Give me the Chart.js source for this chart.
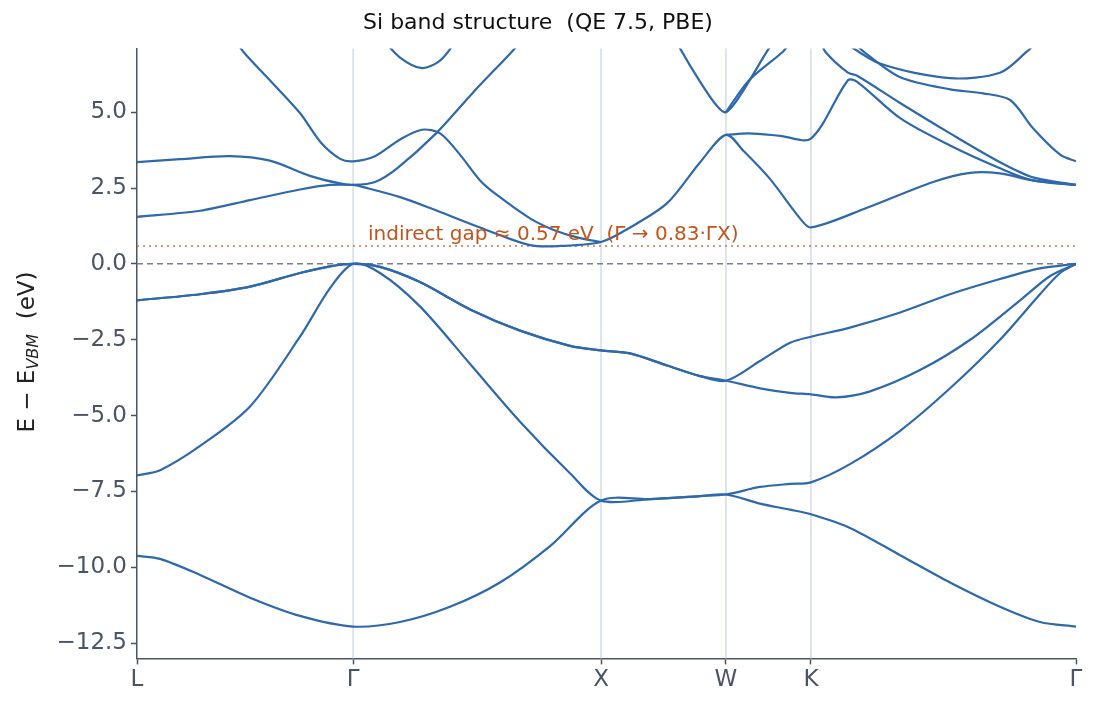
<!DOCTYPE html>
<html><head><meta charset="utf-8">
<script src="https://cdn.jsdelivr.net/npm/chart.js@4/dist/chart.umd.min.js"></script>
<style>html,body{margin:0;padding:0;background:#fff}#wrap{width:1099px;height:715px}</style>
</head><body><div id="wrap"><canvas id="c"></canvas></div>
<script>
// High-symmetry path positions and labels
const kTicks = [0, 0.870, 1.868, 2.371, 2.713, 3.780];
const kLabels = ['L', 'Γ', 'X', 'W', 'K', 'Γ'];
const gapE = 0.59;
// Bands: [k, E] pairs (eV relative to VBM)
const band1 = [[0,-9.62],[0.093,-9.72],[0.254,-10.25],[0.455,-11.0],[0.656,-11.6],[0.870,-11.95],[1.059,-11.8],[1.260,-11.3],[1.461,-10.5],[1.663,-9.3],[1.868,-7.8],[2.065,-7.75],[2.267,-7.65],[2.371,-7.6],[2.508,-7.9],[2.629,-8.1],[2.713,-8.25],[2.870,-8.7],[3.072,-9.6],[3.273,-10.5],[3.474,-11.3],[3.635,-11.8],[3.780,-11.95]];
const band2 = [[0,-6.97],[0.093,-6.8],[0.254,-6.0],[0.455,-4.7],[0.656,-2.4],[0.777,-0.8],[0.870,0],[0.978,-0.3],[1.139,-1.4],[1.341,-3.3],[1.542,-5.2],[1.743,-6.9],[1.868,-7.8],[2.065,-7.75],[2.267,-7.65],[2.371,-7.6],[2.508,-7.35],[2.629,-7.25],[2.713,-7.2],[2.870,-6.6],[3.072,-5.5],[3.273,-4.1],[3.474,-2.5],[3.635,-1.0],[3.716,-0.3],[3.780,0]];
const band3 = [[0,-1.2],[0.254,-1.0],[0.455,-0.75],[0.656,-0.3],[0.777,-0.08],[0.870,0],[0.978,-0.1],[1.139,-0.6],[1.341,-1.5],[1.542,-2.2],[1.743,-2.7],[1.868,-2.85],[1.985,-2.95],[2.134,-3.35],[2.267,-3.7],[2.371,-3.85],[2.508,-4.1],[2.629,-4.25],[2.713,-4.3],[2.814,-4.4],[2.951,-4.2],[3.152,-3.5],[3.354,-2.5],[3.555,-1.2],[3.676,-0.4],[3.780,0]];
const band4 = [[0,-1.2],[0.254,-1.0],[0.455,-0.75],[0.656,-0.3],[0.777,-0.08],[0.870,0],[0.978,-0.1],[1.139,-0.6],[1.341,-1.5],[1.542,-2.2],[1.743,-2.7],[1.868,-2.85],[1.985,-2.95],[2.134,-3.35],[2.267,-3.7],[2.371,-3.85],[2.508,-3.2],[2.629,-2.6],[2.713,-2.4],[2.870,-2.1],[3.072,-1.6],[3.273,-1.0],[3.474,-0.5],[3.635,-0.15],[3.780,0]];
const band5 = [[0,1.55],[0.254,1.75],[0.455,2.1],[0.656,2.45],[0.777,2.6],[0.870,2.6],[0.910,2.53],[1.059,2.2],[1.180,1.84],[1.381,1.2],[1.582,0.62],[1.703,0.59],[1.868,0.72],[1.985,1.2],[2.134,2.0],[2.267,3.35],[2.371,4.25],[2.444,3.7],[2.548,2.8],[2.669,1.5],[2.713,1.2],[2.939,1.85],[3.205,2.7],[3.354,3.0],[3.474,2.98],[3.607,2.75],[3.780,2.6]];
const band6 = [[0,3.35],[0.173,3.45],[0.374,3.55],[0.535,3.4],[0.696,2.9],[0.817,2.65],[0.870,2.6],[0.958,2.7],[1.047,3.15],[1.204,4.3],[1.353,5.65],[1.510,7.0],[1.562,7.5]];
const band7 = [[0.395,7.4],[0.427,7.0],[0.535,6.05],[0.656,4.97],[0.740,4.0],[0.820,3.45],[0.870,3.38],[0.958,3.55],[1.059,4.1],[1.147,4.42],[1.220,4.3],[1.300,3.6],[1.381,2.75],[1.449,2.27],[1.582,1.5],[1.683,1.1],[1.784,0.85],[1.868,0.72]];
const band8 = [[0.978,7.5],[1.059,6.8],[1.147,6.45],[1.220,6.7],[1.280,7.3],[1.300,7.6]];
const bandW1 = [[2.170,7.4],[2.186,7.1],[2.267,6.0],[2.335,5.2],[2.371,5.0],[2.424,5.5],[2.536,7.0],[2.569,7.4]];
const bandW2 = [[2.371,5.0],[2.464,6.05],[2.601,7.0],[2.629,7.3]];
const bandWK = [[2.371,4.25],[2.464,4.3],[2.589,4.22],[2.713,4.13],[2.862,6.05],[2.899,6.0],[3.072,4.8],[3.273,3.9],[3.474,3.15],[3.607,2.75],[3.780,2.6]];
const bandK1 = [[2.750,7.4],[2.770,7.0],[2.862,6.3],[2.899,6.2],[3.072,5.3],[3.273,4.3],[3.474,3.35],[3.607,2.85],[3.780,2.6]];
const bandK2 = [[2.870,7.4],[2.939,6.9],[3.072,6.15],[3.273,5.75],[3.406,5.62],[3.515,5.4],[3.607,4.47],[3.716,3.6],[3.780,3.38]];
const bandK3 = [[2.830,7.4],[2.991,6.6],[3.273,6.12],[3.474,6.3],[3.583,7.0],[3.635,7.4]];
const bands = [band1,band2,band3,band4,band5,band6,band7,band8,bandW1,bandW2,bandWK,bandK1,bandK2,bandK3];

const BLUE = '#2e69ac';
const datasets = bands.map(b => ({
  data: b.map(p => ({x:p[0], y:p[1]})),
  borderColor: BLUE, borderWidth: 2.2, pointRadius: 0, fill: false,
  tension: 0.3
}));
datasets.push({data:[{x:0,y:0},{x:3.78,y:0}], borderColor:'#7a7f8c', borderWidth:1.5, borderDash:[6,4], pointRadius:0});
datasets.push({data:[{x:0,y:gapE},{x:3.78,y:gapE}], borderColor:'#d9734a', borderWidth:1.5, borderDash:[2,4], pointRadius:0});

const overlay = {
  id:'overlay',
  beforeDatasetsDraw(chart){
    const {ctx, chartArea:a, scales:{x}} = chart;
    ctx.save(); ctx.strokeStyle='#c9d3e1'; ctx.lineWidth=1.2;
    kTicks.slice(1,-1).forEach(k=>{const px=x.getPixelForValue(k);ctx.beginPath();ctx.moveTo(px,a.top);ctx.lineTo(px,a.bottom);ctx.stroke();});
    ctx.restore();
  },
  afterDraw(chart){
    const {ctx, scales:{x,y}} = chart;
    ctx.save();
    ctx.fillStyle='#c0541c'; ctx.font='20px "DejaVu Sans"'; ctx.textBaseline='alphabetic';
    ctx.fillText('indirect gap ≈ 0.57 eV  (Γ → 0.83·ΓX)', x.getPixelForValue(0.93), y.getPixelForValue(gapE)-6);
    ctx.translate(28, 352); ctx.rotate(-Math.PI/2);
    ctx.fillStyle='#222'; ctx.textBaseline='middle'; ctx.textAlign='left';
    const F='23px "DejaVu Sans"', S='italic 16px "DejaVu Sans"';
    const p1='E − E', p3='  (eV)';
    ctx.font=F; let wTot=ctx.measureText(p1).width+ctx.measureText(p3).width;
    ctx.font=S; wTot+=ctx.measureText('VBM').width;
    let w=-wTot/2;
    ctx.font=F; ctx.fillText(p1,w,0); w+=ctx.measureText(p1).width;
    ctx.font=S; ctx.fillText('VBM',w,6); w+=ctx.measureText('VBM').width;
    ctx.font=F; ctx.fillText(p3,w,0);
    ctx.restore();
  }
};

new Chart(document.getElementById('c'), {
  type:'line',
  data:{datasets},
  plugins:[overlay],
  options:{
    responsive:true, maintainAspectRatio:false, animation:false,
    layout:{padding:{top:0,right:23,bottom:19,left:0}},
    plugins:{
      legend:{display:false}, tooltip:{enabled:false},
      title:{display:true, text:'Si band structure  (QE 7.5, PBE)', color:'#111', font:{family:'DejaVu Sans', size:22, weight:'normal'}, padding:{top:10,bottom:12}}
    },
    scales:{
      x:{type:'linear', min:0, max:3.78,
        afterBuildTicks(s){s.ticks=kTicks.map(v=>({value:v}));},
        ticks:{callback:(v,i)=>kLabels[i], color:'#4a5568', font:{family:'DejaVu Sans',size:23}, maxRotation:0, autoSkip:false, padding:2},
        grid:{display:true, drawOnChartArea:false, drawTicks:true, tickLength:6, color:'#4a5568', tickWidth:1.5},
        border:{display:true,color:'#4a5568',width:1.5}
      },
      y:{type:'linear', min:-13, max:7.1,
        afterBuildTicks(s){s.ticks=[5,2.5,0,-2.5,-5,-7.5,-10,-12.5].map(v=>({value:v}));},
        afterFit(s){s.width=137;},
        ticks:{callback:v=>(v<0?'−':'')+Math.abs(v).toFixed(1), color:'#4a5568', font:{family:'DejaVu Sans',size:23}, padding:4},
        grid:{display:true, drawOnChartArea:false, drawTicks:true, tickLength:6, color:'#4a5568', tickWidth:1.5},
        border:{display:true,color:'#4a5568',width:1.5}
      }
    }
  }
});
</script></body></html>
